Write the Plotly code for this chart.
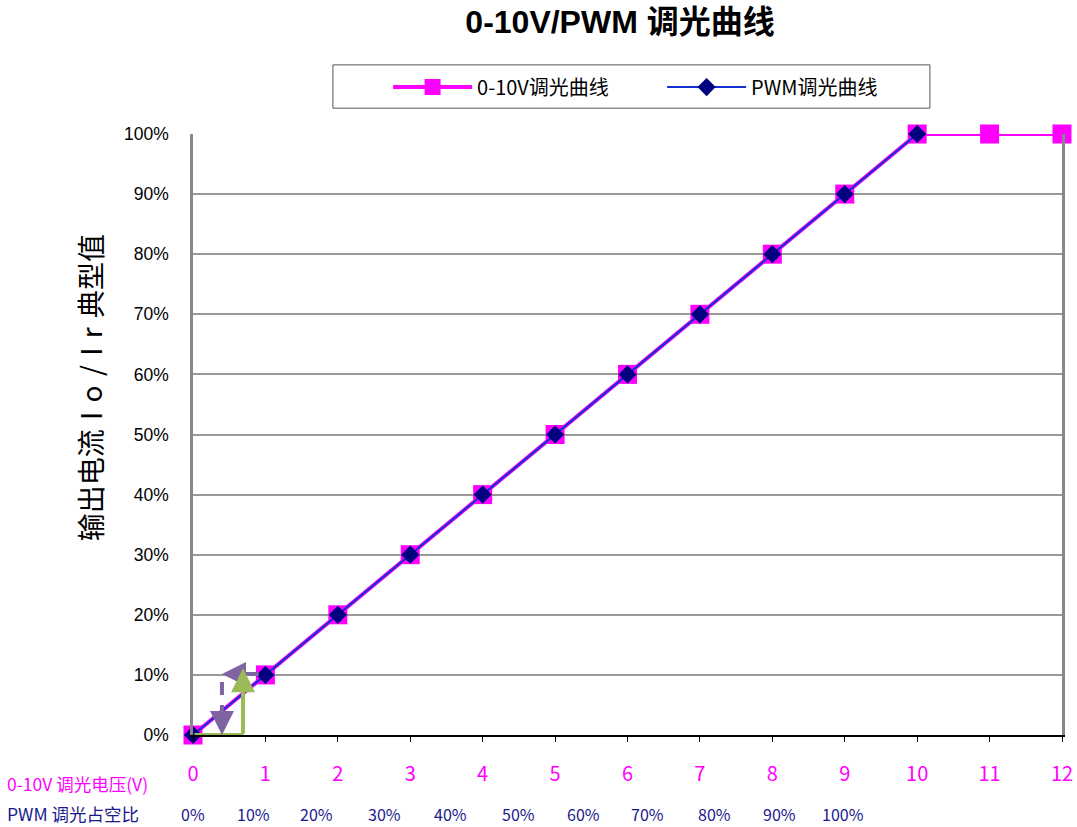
import plotly.graph_objects as go

# data
voltage = [0, 1, 2, 3, 4, 5, 6, 7, 8, 9, 10, 11, 12]
out_0_10v = [0, 10, 20, 30, 40, 50, 60, 70, 80, 90, 100, 100, 100]
pwm_x = [0, 1, 2, 3, 4, 5, 6, 7, 8, 9, 10]
out_pwm = [0, 10, 20, 30, 40, 50, 60, 70, 80, 90, 100]
pwm_labels = ['0%', '10%', '20%', '30%', '40%', '50%', '60%', '70%', '80%', '90%', '100%']
# where each duty-cycle label sits along the x axis (layout only)
pwm_label_pos = [0.0, 0.83, 1.71, 2.64, 3.56, 4.5, 5.39, 6.27, 7.2, 8.1, 8.98]

FONT = 'Arial, Liberation Sans, Noto Sans CJK SC'
CJK = 'Noto Sans CJK SC'
PINK = '#FF00FF'
NAVY = '#1A1A8C'
GREEN = '#9BBB59'
PURPLE = '#8064A2'

fig = go.Figure()

fig.add_trace(go.Scatter(
	x=voltage, y=out_0_10v, mode='lines+markers', name='0-10V调光曲线',
	line=dict(color=PINK, width=4),
	marker=dict(symbol='square', size=19, color=PINK),
	cliponaxis=False))

fig.add_trace(go.Scatter(
	x=pwm_x, y=out_pwm, mode='lines+markers', name='PWM调光曲线',
	line=dict(color='#1030D0', width=2),
	marker=dict(symbol='diamond', size=14, color='#000080'),
	cliponaxis=False))

# purple: left along 10% then dashed down to 0
fig.add_annotation(x=0.4, y=10.15, ax=0.93, ay=10.15, axref='x', ayref='y', xref='x', yref='y',
	text='', showarrow=True, arrowhead=2, arrowsize=1.2, arrowwidth=4, arrowcolor=PURPLE)
fig.add_shape(type='line', x0=0.4, y0=8.8, x1=0.4, y1=3.0,
	line=dict(color=PURPLE, width=4, dash='13px,10px'))
fig.add_annotation(x=0.4, y=0, ax=0.4, ay=2.8, axref='x', ayref='y', xref='x', yref='y',
	text='', showarrow=True, arrowhead=2, arrowsize=1.2, arrowwidth=4, arrowcolor=PURPLE)
# green solid arrow: right along 0 then up to 10%
fig.add_shape(type='line', x0=0.02, y0=0, x1=0.7, y1=0, line=dict(color=GREEN, width=4))
fig.add_annotation(x=0.69, y=11.1, ax=0.69, ay=0, axref='x', ayref='y', xref='x', yref='y',
	text='', showarrow=True, arrowhead=2, arrowsize=1.2, arrowwidth=4, arrowcolor=GREEN)

# legend frame
fig.add_shape(type='rect', xref='paper', yref='paper', x0=0.161, x1=0.848, y0=1.043, y1=1.115,
	line=dict(color='#555555', width=1), fillcolor='white', layer='below')

# y axis title
fig.add_annotation(x=-0.1185, y=0.577, xref='paper', yref='paper', textangle=-90,
	xanchor='center', yanchor='middle',
	text='输出电流\u2004I\u2004o\u2004/\u2004I\u2004r\u2004典型值', showarrow=False,
	font=dict(size=28, color='black', family=CJK))

# row captions and duty-cycle labels under the axis
fig.add_annotation(x=0, y=-0.0799, xref='paper', yref='paper', xanchor='left', yanchor='middle',
	text='0-10V 调光电压(V)', showarrow=False, font=dict(color=PINK, size=17.5, family=CJK),
	xshift=-188)
fig.add_annotation(x=0, y=-0.1314, xref='paper', yref='paper', xanchor='left', yanchor='middle',
	text='PWM 调光占空比', showarrow=False, font=dict(color=NAVY, size=17.5, family=CJK),
	xshift=-188)
for pos, lab in zip(pwm_label_pos, pwm_labels):
	fig.add_annotation(x=pos, y=-0.1314, xref='x', yref='paper', yanchor='middle',
		text=lab, showarrow=False, font=dict(color=NAVY, size=16, family=CJK))

fig.update_layout(
	width=1077, height=827,
	margin=dict(l=193, r=15, t=134, b=92, autoexpand=False),
	paper_bgcolor='white', plot_bgcolor='white',
	font=dict(family=FONT, color='black'),
	title=dict(text='<b>0-10V/PWM 调光曲线</b>', x=0.5757, xanchor='center', y=0.9734,
		yanchor='middle', font=dict(size=32, color='black')),
	legend=dict(orientation='h', x=0.2245, xanchor='left', y=1.078, yanchor='middle',
		bgcolor='rgba(0,0,0,0)', borderwidth=0, font=dict(size=20, family=CJK),
		itemwidth=79, entrywidth=180),
	showlegend=True,
)

fig.update_xaxes(
	range=[0, 12], tickvals=voltage, ticktext=[str(v) for v in voltage],
	showgrid=False, zeroline=False, automargin=False,
	showline=True, linecolor='black', linewidth=2,
	ticks='outside', ticklen=5, tickcolor='black',
	ticklabelstandoff=15,
	tickfont=dict(color=PINK, size=20, family=CJK))

fig.update_yaxes(
	range=[0, 100], tickvals=list(range(0, 101, 10)),
	ticktext=[f'{v}%' for v in range(0, 101, 10)],
	showgrid=True, gridcolor='#999999', gridwidth=1.5, zeroline=False, automargin=False,
	showline=True, linecolor='#888888', linewidth=2.5, mirror=True,
	tickfont=dict(size=17.5, color='black'), ticklabelstandoff=18)

# drop the default page margin so the figure fills the window exactly
fig.write_html('out.html', config={'displayModeBar': False},
	post_script="document.body.style.margin='0';document.body.style.overflow='hidden';")
